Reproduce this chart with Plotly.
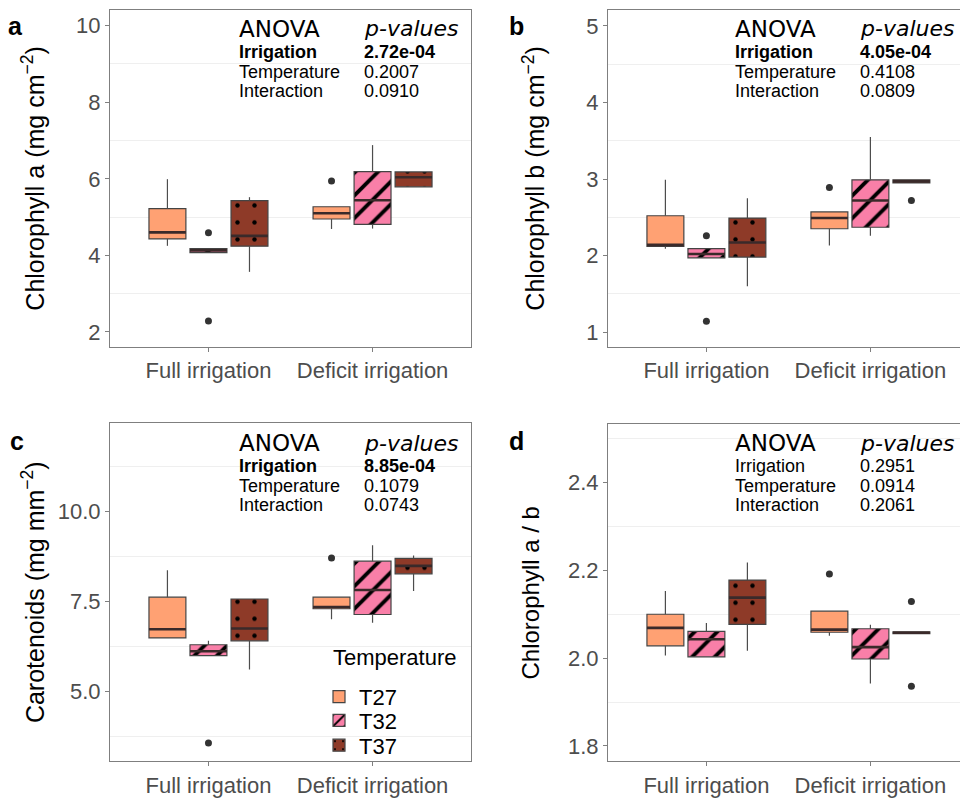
import plotly.graph_objects as go

# ---------------- data ----------------
groups = ["Full irrigation", "Deficit irrigation"]
temps = ["T27", "T32", "T37"]
temp_colors = ["#FFA173", "#F97FA8", "#8E3A28"]

# Panel a: Chlorophyll a (values per group: [Full, Deficit])
a_q1 = {"T27": [4.43, 4.95], "T32": [4.07, 4.81], "T37": [4.24, 5.79]}
a_med = {"T27": [4.60, 5.10], "T32": [4.13, 5.44], "T37": [4.51, 6.04]}
a_q3 = {"T27": [5.22, 5.27], "T32": [4.18, 6.19], "T37": [5.43, 6.18]}
a_lo = {"T27": [4.25, 4.69], "T32": [4.07, 4.70], "T37": [3.57, 5.79]}
a_hi = {"T27": [5.99, 5.27], "T32": [4.18, 6.88], "T37": [5.52, 6.18]}
a_out = {"T27": [[], [5.94]], "T32": [[4.59, 2.29], []], "T37": [[], []]}

# Panel b: Chlorophyll b
b_q1 = {"T27": [2.12, 2.35], "T32": [1.97, 2.37], "T37": [1.98, 2.95]}
b_med = {"T27": [2.14, 2.49], "T32": [2.02, 2.72], "T37": [2.17, 2.97]}
b_q3 = {"T27": [2.52, 2.57], "T32": [2.09, 2.99], "T37": [2.49, 2.99]}
b_lo = {"T27": [2.09, 2.13], "T32": [1.97, 2.26], "T37": [1.60, 2.95]}
b_hi = {"T27": [2.99, 2.57], "T32": [2.09, 3.55], "T37": [2.75, 2.99]}
b_out = {"T27": [[], [2.89]], "T32": [[2.26, 1.14], []], "T37": [[], [2.72]]}

# Panel c: Carotenoids
c_q1 = {"T27": [6.48, 7.29], "T32": [5.99, 7.13], "T37": [6.40, 8.26]}
c_med = {"T27": [6.72, 7.34], "T32": [6.11, 7.81], "T37": [6.74, 8.48]}
c_q3 = {"T27": [7.61, 7.61], "T32": [6.29, 8.61], "T37": [7.56, 8.69]}
c_lo = {"T27": [6.48, 7.00], "T32": [5.99, 6.90], "T37": [5.60, 7.78]}
c_hi = {"T27": [8.36, 7.61], "T32": [6.40, 9.05], "T37": [7.56, 8.77]}
c_out = {"T27": [[], [8.70]], "T32": [[3.56], []], "T37": [[], []]}

# Panel d: Chlorophyll a / b
d_q1 = {"T27": [2.028, 2.059], "T32": [2.003, 1.998], "T37": [2.077, 2.056]}
d_med = {"T27": [2.069, 2.065], "T32": [2.043, 2.025], "T37": [2.138, 2.058]}
d_q3 = {"T27": [2.100, 2.107], "T32": [2.061, 2.067], "T37": [2.178, 2.060]}
d_lo = {"T27": [2.006, 2.051], "T32": [2.003, 1.942], "T37": [2.017, 2.056]}
d_hi = {"T27": [2.153, 2.107], "T32": [2.080, 2.076], "T37": [2.218, 2.060]}
d_out = {"T27": [[], [2.192]], "T32": [[], []], "T37": [[], [2.129, 1.936]]}

# ANOVA tables
anova_terms = ["Irrigation", "Temperature", "Interaction"]
a_p = ["2.72e-04", "0.2007", "0.0910"]
b_p = ["4.05e-04", "0.4108", "0.0809"]
c_p = ["8.85e-04", "0.1079", "0.0743"]
d_p = ["0.2951", "0.0914", "0.2061"]
a_bold = [True, False, False]
b_bold = [True, False, False]
c_bold = [True, False, False]
d_bold = [False, False, False]

y_titles = ["Chlorophyll a (mg cm<sup>−2</sup>)", "Chlorophyll b (mg cm<sup>−2</sup>)",
            "Carotenoids (mg mm<sup>−2</sup>)", "Chlorophyll a / b"]
panel_letters = ["a", "b", "c", "d"]
legend_title = "Temperature"

# ---------------- layout geometry (pixels) ----------------
W, H = 960, 798
FONT = "Liberation Sans, Arial, sans-serif"
DODGE = [-0.25, 0.0, 0.25]
BOXW = 0.225
PATTERNS = [dict(shape=""),
            dict(shape="/", size=16, solidity=0.24, fgcolor="black", fgopacity=1),
            dict(shape=".", size=17, solidity=0.055, fgcolor="black", fgopacity=1)]
LEGEND_NAMES = ["legend", "legend2", "legend3"]
LEGEND_Y = [703, 727, 752]

panels = [
    dict(key="", q1=a_q1, med=a_med, q3=a_q3, lo=a_lo, hi=a_hi, out=a_out,
         px=(110, 471), py=(10, 350), xr=[0.4, 2.6], yr=[1.61, 10.41],
         tickvals=[2, 4, 6, 8, 10], fmt="d", minor0=3, minordt=2,
         p=a_p, bold=a_bold, ax=(237, 362), ay=(29, 40), lab=(6, 26), standoff=24, tsize=25),
    dict(key="2", q1=b_q1, med=b_med, q3=b_q3, lo=b_lo, hi=b_hi, out=b_out,
         px=(608, 960), py=(10, 350), xr=[0.4, 0.4 + 352 / 164], yr=[0.806, 5.21],
         tickvals=[1, 2, 3, 4, 5], fmt="d", minor0=1.5, minordt=1,
         p=b_p, bold=b_bold, ax=(733, 858), ay=(29, 40), lab=(507, 26), standoff=34, tsize=25),
    dict(key="3", q1=c_q1, med=c_med, q3=c_q3, lo=c_lo, hi=c_hi, out=c_out,
         px=(110, 471), py=(427, 768), xr=[0.4, 2.6], yr=[3.055, 12.44],
         tickvals=[5.0, 7.5, 10.0], fmt=".1f", minor0=3.75, minordt=2.5,
         p=c_p, bold=c_bold, ax=(237, 362), ay=(447, 458), lab=(8, 445), standoff=6, tsize=25),
    dict(key="4", q1=d_q1, med=d_med, q3=d_q3, lo=d_lo, hi=d_hi, out=d_out,
         px=(608, 960), py=(428, 768), xr=[0.4, 0.4 + 352 / 164], yr=[1.765, 2.533],
         tickvals=[1.8, 2.0, 2.2, 2.4], fmt=".1f", minor0=1.9, minordt=0.2,
         p=d_p, bold=d_bold, ax=(733, 858), ay=(447, 458), lab=(507, 445), standoff=21, tsize=24),
]

fig = go.Figure()
annotations = []
layout_axes = {}

for pi, P in enumerate(panels):
    xa, ya = "x" + P["key"], "y" + P["key"]
    show_leg = (pi == 2)
    for ti, t in enumerate(temps):
        centers = [g + 1 + DODGE[ti] for g in range(len(groups))]
        q1, med, q3, lo, hi = P["q1"][t], P["med"][t], P["q3"][t], P["lo"][t], P["hi"][t]
        # whiskers
        wx, wy = [], []
        for c, a1, a3, l, h in zip(centers, q1, q3, lo, hi):
            wx += [c, c, None, c, c, None]
            wy += [a3, h, None, a1, l, None]
        fig.add_trace(go.Scatter(x=wx, y=wy, mode="lines", xaxis=xa, yaxis=ya,
                                 line=dict(color="#4d4d4d", width=1.2),
                                 showlegend=False, hoverinfo="skip"))
        # boxes
        fig.add_trace(go.Bar(
            x=centers, y=[b - a for a, b in zip(q1, q3)], base=q1, width=BOXW,
            xaxis=xa, yaxis=ya, name=t, showlegend=show_leg, legend=LEGEND_NAMES[ti],
            marker=dict(color=temp_colors[ti], line=dict(color="#444444", width=1.2),
                        pattern=dict(bgcolor=temp_colors[ti], **PATTERNS[ti]))))
        # medians
        mx, my = [], []
        for c, m in zip(centers, med):
            mx += [c - BOXW / 2, c + BOXW / 2, None]
            my += [m, m, None]
        fig.add_trace(go.Scatter(x=mx, y=my, mode="lines", xaxis=xa, yaxis=ya,
                                 line=dict(color="#3a2a2a", width=2.6),
                                 showlegend=False, hoverinfo="skip"))
        # outliers
        ox, oy = [], []
        for c, outs in zip(centers, P["out"][t]):
            for v in outs:
                ox.append(c)
                oy.append(v)
        if ox:
            fig.add_trace(go.Scatter(x=ox, y=oy, mode="markers", xaxis=xa, yaxis=ya,
                                     marker=dict(color="#333333", size=7),
                                     showlegend=False, hoverinfo="skip"))

    right_open = P["px"][1] >= W
    xdom = [P["px"][0] / W, min(P["px"][1] / W, 1.0)]
    ydom = [1 - P["py"][1] / H, 1 - P["py"][0] / H]
    layout_axes["xaxis" + P["key"]] = dict(
        domain=xdom, range=P["xr"], anchor=ya, tickvals=[1, 2], ticktext=groups,
        showline=True, mirror=True, linecolor="#7f7f7f", linewidth=1,
        ticks="outside", ticklen=4, tickcolor="#7f7f7f",
        tickfont=dict(size=22, color="#4d4d4d", family=FONT),
        showgrid=False, zeroline=False, fixedrange=True)
    layout_axes["yaxis" + P["key"]] = dict(
        domain=ydom, range=P["yr"], anchor=xa, tickvals=P["tickvals"],
        tickformat=P["fmt"],
        showline=True, mirror=not right_open, linecolor="#7f7f7f", linewidth=1,
        ticks="outside", ticklen=4, tickcolor="#7f7f7f",
        tickfont=dict(size=22, color="#4d4d4d", family=FONT),
        showgrid=False, zeroline=False,
        minor=dict(tick0=P["minor0"], dtick=P["minordt"], showgrid=True,
                   gridcolor="#EFEFEF", gridwidth=1, ticks=""),
        title=dict(text=y_titles[pi], font=dict(size=P["tsize"], color="black", family=FONT),
                   standoff=P["standoff"]),
        fixedrange=True)

    # ANOVA table: header line, then a 3-row block in two columns
    x1, x2 = P["ax"][0] / W, P["ax"][1] / W
    y_head = 1 - P["ay"][0] / H
    y_rows = 1 - P["ay"][1] / H
    annotations.append(dict(text="ANOVA", x=x1, y=y_head, xref="paper", yref="paper",
                            xanchor="left", yanchor="middle", showarrow=False,
                            font=dict(size=23, family="DejaVu Sans", color="black")))
    annotations.append(dict(text="<i>p-values</i>", x=x2, y=y_head, xref="paper", yref="paper",
                            xanchor="left", yanchor="middle", showarrow=False,
                            font=dict(size=22, family="DejaVu Sans", color="black")))

    def cell(s, bd):
        s = f"<b>{s}</b>" if bd else s
        return f'<span style="font-size:18px">{s}</span>'

    col1 = "<br>".join(cell(t, bd) for t, bd in zip(anova_terms, P["bold"]))
    col2 = "<br>".join(cell(v, bd) for v, bd in zip(P["p"], P["bold"]))
    for txt, xx in ((col1, x1), (col2, x2)):
        annotations.append(dict(text=txt, x=xx, y=y_rows, xref="paper", yref="paper",
                                xanchor="left", yanchor="top", align="left", showarrow=False,
                                font=dict(size=15, family=FONT, color="black")))
    # panel letter
    annotations.append(dict(text=f"<b>{panel_letters[pi]}</b>", x=P["lab"][0] / W,
                            y=1 - P["lab"][1] / H, xref="paper", yref="paper",
                            xanchor="left", yanchor="middle", showarrow=False,
                            font=dict(size=25, family=FONT, color="black")))

# legend title (panel c)
annotations.append(dict(text=legend_title, x=331 / W, y=1 - 663 / H, xref="paper", yref="paper",
                        xanchor="left", yanchor="middle", showarrow=False,
                        font=dict(size=22, family=FONT, color="black")))
legends = {}
for name, ly in zip(LEGEND_NAMES, LEGEND_Y):
    legends[name] = dict(x=319 / W, y=1 - ly / H, xanchor="left", yanchor="middle",
                         bgcolor="rgba(0,0,0,0)",
                         font=dict(size=22, family=FONT, color="black"),
                         itemwidth=30, tracegroupgap=0)

fig.update_layout(
    width=W, height=H, margin=dict(l=0, r=0, t=0, b=0),
    paper_bgcolor="white", plot_bgcolor="white",
    barmode="overlay", annotations=annotations,
    font=dict(family=FONT),
    **legends,
    **layout_axes,
)

fig.write_html("out.html", config={"displayModeBar": False},
               post_script="document.body.style.margin='0';document.body.style.overflow='hidden';")
